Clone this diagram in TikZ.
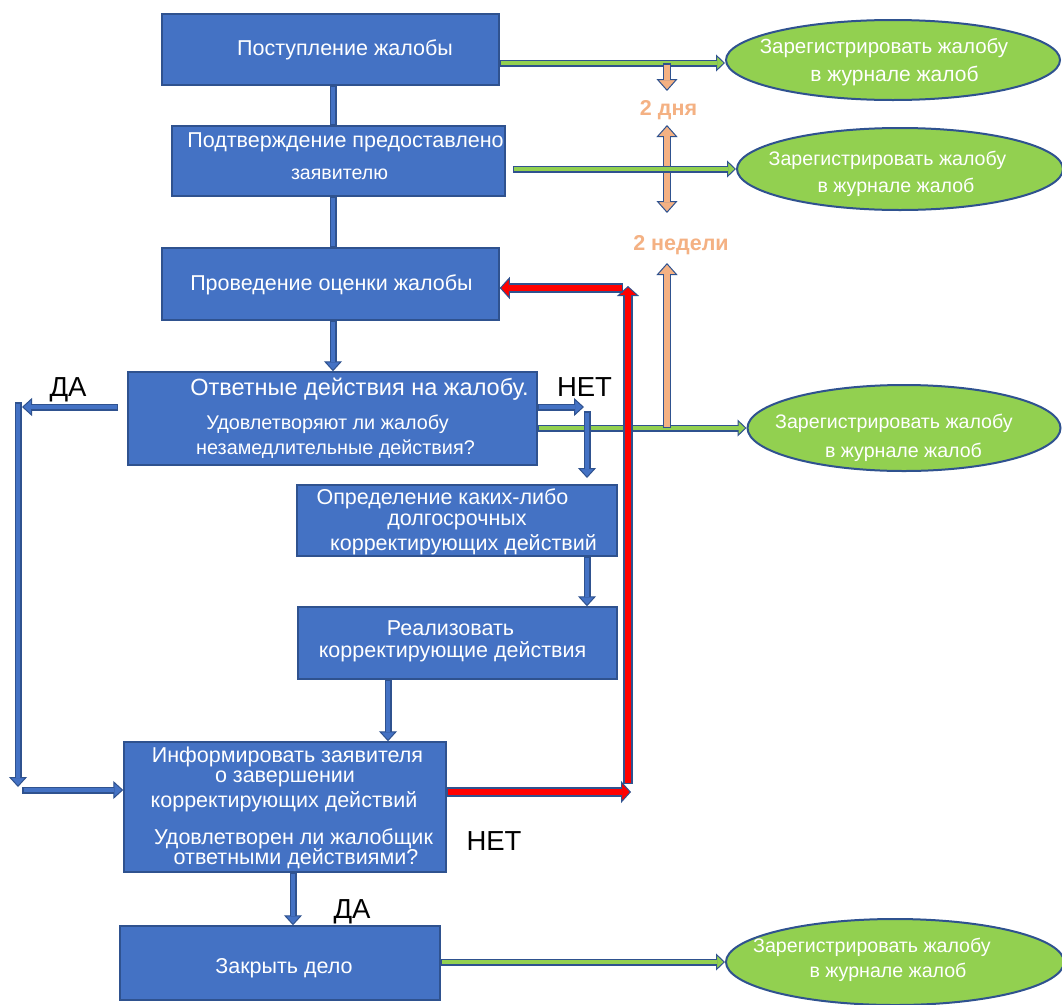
\documentclass[tikz,border=0pt]{standalone}
\usepackage{fontspec}
\setmainfont{Liberation Sans}
\usetikzlibrary{arrows.meta,shapes.geometric}
\definecolor{bfill}{HTML}{4472C4}
\definecolor{bdark}{HTML}{2F528F}
\definecolor{gfill}{HTML}{92D050}
\definecolor{ofill}{HTML}{F4B183}
\definecolor{rfill}{HTML}{FF0000}
\tikzset{
  box/.style={draw=bdark, line width=1.5pt, fill=bfill, inner sep=0pt},
  ell/.style={ellipse, draw=bdark, line width=2pt, fill=gfill, inner sep=0pt},
  txt/.style={text=white, inner sep=0pt, text height=0.6em, text depth=0pt, yshift=-3pt, font=\fontsize{21.5}{25}\selectfont},
  etxt/.style={text=white, inner sep=0pt, text height=0.6em, text depth=0pt, yshift=-3pt, font=\fontsize{19.6}{23}\selectfont},
  lbl/.style={text=black, inner sep=0pt, text height=0.72em, text depth=0pt, yshift=-4pt, font=\fontsize{27.5}{30}\selectfont},
  olbl/.style={text=ofill, inner sep=0pt, text height=0.6em, text depth=0pt, yshift=-3pt, font=\fontsize{21.5}{24}\selectfont\bfseries},
  barrow/.style={draw=bdark, line width=7pt,
    -{Triangle[length=10pt,width=18pt,fill=bfill,line width=1pt]},
    postaction={draw=bfill, line width=4pt, -, shorten >=9pt, shorten <=1.5pt}},
  bline/.style={draw=bdark, line width=7pt,
    postaction={draw=bfill, line width=4pt, shorten >=1.5pt, shorten <=1.5pt}},
  garrow/.style={draw=bdark, line width=7pt,
    -{Triangle[length=9pt,width=17pt,fill=gfill,line width=1pt]},
    postaction={draw=gfill, line width=3.5pt, -, shorten >=8pt, shorten <=1.5pt}},
  rarrow/.style={draw=bdark, line width=10pt,
    -{Triangle[length=10pt,width=22pt,fill=rfill,line width=1pt]},
    postaction={draw=rfill, line width=6.5pt, -, shorten >=9pt, shorten <=1.5pt}},
  oarrow/.style={draw=bdark, line width=8.5pt,
    -{Triangle[length=12pt,width=21pt,fill=ofill,line width=1pt]},
    postaction={draw=ofill, line width=5.5pt, -, shorten >=11pt, shorten <=1.5pt}},
  odarrow/.style={draw=bdark, line width=8.5pt,
    {Triangle[length=12pt,width=21pt,fill=ofill,line width=1pt]}-{Triangle[length=12pt,width=21pt,fill=ofill,line width=1pt]},
    postaction={draw=ofill, line width=5.5pt, -, shorten >=11pt, shorten <=11pt}},
}
\begin{document}
\begin{tikzpicture}[x=1pt,y=-1pt]
\useasboundingbox[fill=white] (0,0) rectangle (1062,1004);

% ---------- boxes ----------
\node[box, minimum width=337pt, minimum height=71pt] (b1) at (330.5,49.5) {};
\node[box, minimum width=333pt, minimum height=70pt] (b2) at (338.5,161) {};
\node[box, minimum width=337pt, minimum height=72pt] (b3) at (330.5,284) {};
\node[box, minimum width=409pt, minimum height=93pt] (b4) at (332.5,418.5) {};
\node[box, minimum width=320pt, minimum height=71pt] (b5) at (457,520.5) {};
\node[box, minimum width=319pt, minimum height=72pt] (b6) at (457.5,643) {};
\node[box, minimum width=322pt, minimum height=130pt] (b7) at (285,807) {};
\node[box, minimum width=320pt, minimum height=74pt] (b8) at (280,963) {};

% ---------- ellipses ----------
\node[ell, minimum width=334pt, minimum height=80pt] (e1) at (893,60) {};
\node[ell, minimum width=326pt, minimum height=82pt] (e2) at (900,169) {};
\node[ell, minimum width=313pt, minimum height=86pt] (e3) at (904,428) {};
\node[ell, minimum width=338pt, minimum height=86pt] (e4) at (895,962) {};

% ---------- box texts ----------
\node[txt] (t1) at (345,49) {Поступление жалобы};
\node[txt] (t2a) at (345.5,141) {Подтверждение предоставлено};
\node[txt, font=\fontsize{19.6}{23}\selectfont] (t2b) at (339.5,173) {заявителю};
\node[txt] (t3) at (331.5,284) {Проведение оценки жалобы};
\node[txt, font=\fontsize{23.5}{27}\selectfont] (t4a) at (359.5,389) {Ответные действия на жалобу.};
\node[txt, font=\fontsize{19.8}{23}\selectfont] (t4b) at (327.5,423) {Удовлетворяют ли жалобу};
\node[txt, font=\fontsize{19.8}{23}\selectfont] (t4c) at (335.5,448) {незамедлительные действия?};
\node[txt] (t5a) at (442.5,498) {Определение каких-либо};
\node[txt] (t5b) at (457,519) {долгосрочных};
\node[txt] (t5c) at (463.5,544) {корректирующих действий};
\node[txt] (t6a) at (450.5,629) {Реализовать};
\node[txt] (t6b) at (452.5,651) {корректирующие действия};
\node[txt] (t7a) at (287.5,756) {Информировать заявителя};
\node[txt] (t7b) at (285,776.5) {о завершении};
\node[txt] (t7c) at (284,801) {корректирующих действий};
\node[txt] (t7d) at (293.5,838.5) {Удовлетворен ли жалобщик};
\node[txt] (t7e) at (296,858.5) {ответными действиями?};
\node[txt] (t8) at (284,967) {Закрыть дело};

% ---------- ellipse texts ----------
\node[etxt, font=\fontsize{20.5}{24}\selectfont] (e1a) at (884,47) {Зарегистрировать жалобу};
\node[etxt, font=\fontsize{21}{24}\selectfont] (e1b) at (894.5,75) {в журнале жалоб};
\node[etxt] (e2a) at (887.5,159) {Зарегистрировать жалобу};
\node[etxt] (e2b) at (896,186) {в журнале жалоб};
\node[etxt] (e3a) at (894,422) {Зарегистрировать жалобу};
\node[etxt] (e3b) at (903.5,451) {в журнале жалоб};
\node[etxt] (e4a) at (872,946) {Зарегистрировать жалобу};
\node[etxt] (e4b) at (888,971) {в журнале жалоб};

% ---------- labels ----------
\node[olbl] (l2d) at (668.5,109) {2 дня};
\node[olbl] (l2n) at (681,244) {2 недели};
\node[lbl] (net1) at (584.5,389) {НЕТ};
\node[lbl] (da1l) at (68,389) {ДА};
\node[lbl] (net2) at (494,843) {НЕТ};
\node[lbl] (da2l) at (352,911) {ДА};

% ---------- helper coordinates ----------
\coordinate (cx1) at (333,0);
\coordinate (cx5) at (587,0);
\coordinate (cx6) at (388,0);
\coordinate (cx7) at (293,0);
\coordinate (nA) at (584,407);
\coordinate (nB) at (587,411);
\coordinate (nC) at (587,478);
\coordinate (daA) at (118,407);
\coordinate (daB) at (22,407);
\coordinate (daC) at (18,402);
\coordinate (daD) at (18,787);
\coordinate (daE) at (22,790);
\coordinate (o1s) at (667,63);
\coordinate (o1e) at (667,91);
\coordinate (o2s) at (667,125);
\coordinate (o2e) at (667,213);
\coordinate (o3s) at (667,428);
\coordinate (o3e) at (667,263);
\coordinate (rA) at (631,792);
\coordinate (rB) at (628,784);
\coordinate (rC) at (628,286);
\coordinate (rD) at (623,288);

% ---------- main flow connectors ----------
\draw[bline] (b1.south -| cx1) -- (b2.north -| cx1);
\draw[bline] (b2.south -| cx1) -- (b3.north -| cx1);
\draw[barrow] (b3.south -| cx1) -- (b4.north -| cx1);
\draw[barrow] (b5.south -| cx5) -- (b6.north -| cx5);
\draw[barrow] (b6.south -| cx6) -- (b7.north -| cx6);
\draw[barrow] (b7.south -| cx7) -- (b8.north -| cx7);

% ---------- orange (2 days) double arrow, under green ----------
\draw[odarrow] (o2s) -- (o2e);

% ---------- green arrows ----------
\draw[garrow] (b1.east |- o1s) -- (e1.west |- o1s);
\draw[garrow] ([xshift=7pt]b2.east |- e2.west) -- (e2.west);
\draw[garrow] (b4.east |- o3s) -- (e3.west |- o3s);
\draw[garrow] (b8.east |- e4.west) -- (e4.west);

% ---------- orange arrows ----------
\draw[oarrow] (o1s) -- (o1e);
\draw[oarrow] (o3s) -- (o3e);

% ---------- YES branch ----------
\draw[barrow] (daA) -- (daB);
\draw[barrow] (daC) -- (daD);
\draw[barrow] (daE) -- (b7.west |- daE);

% ---------- NO branch ----------
\draw[barrow] (b4.east |- nA) -- (nA);
\draw[barrow] (nB) -- (nC);

% ---------- red loop ----------
\draw[rarrow] (b7.east |- rA) -- (rA);
\draw[rarrow] (rB) -- (rC);
\draw[rarrow] (rD) -- (b3.east |- rD);
\end{tikzpicture}
\end{document}
